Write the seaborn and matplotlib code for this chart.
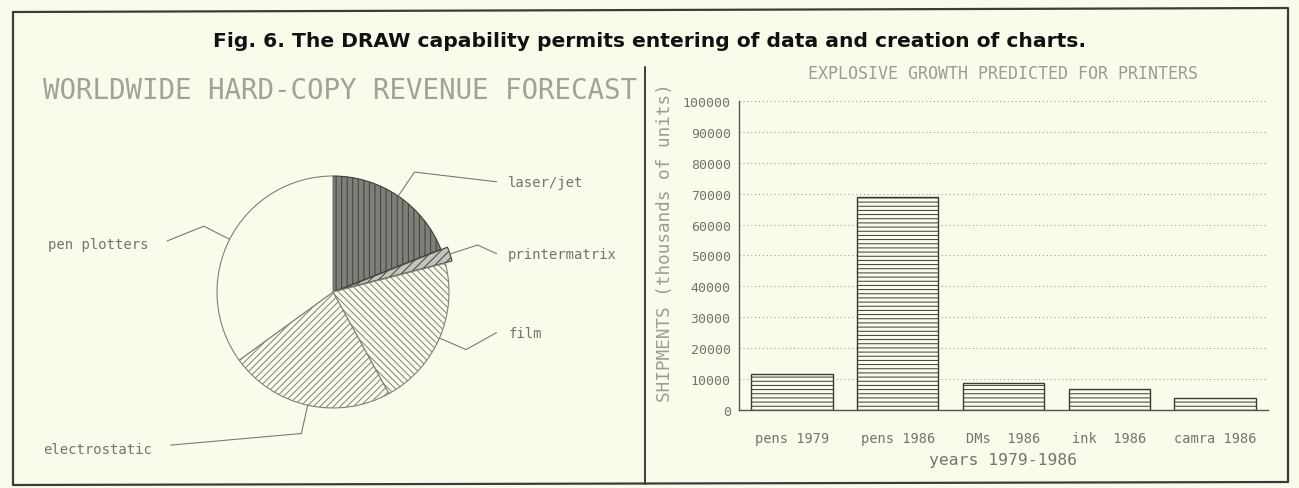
import matplotlib
matplotlib.use("Agg")
import matplotlib.pyplot as plt
import numpy as np
import seaborn as sns

# ---- data -------------------------------------------------------------
pie_labels = ["laser/jet", "printermatrix", "film", "electrostatic", "pen plotters"]
pie_shares = [19, 2, 21, 23, 35]          # percent of revenue

bar_categories = ["pens 1979", "pens 1986", "DMs  1986", "ink  1986", "camra 1986"]
bar_values = [11500, 69000, 8800, 6800, 4000]   # thousands of units
y_ticks = [0, 10000, 20000, 30000, 40000, 50000, 60000, 70000, 80000, 90000, 100000]

# ---- style ------------------------------------------------------------
W, H, DPI = 1299, 489, 100
PAPER = "#fbfbec"
INK = "#74746e"
PALE = "#9c9c96"

sns.set_theme(style="white")
plt.rcParams["font.family"] = ["DejaVu Sans Mono"]
plt.rcParams["hatch.linewidth"] = 0.7

fig = plt.figure(figsize=(W / DPI, H / DPI), dpi=DPI, facecolor=PAPER)


def px_axes(x0, y0, x1, y1):
    """Axes placed by pixel box (top-left origin)."""
    return fig.add_axes([x0 / W, 1 - y1 / H, (x1 - x0) / W, (y1 - y0) / H])


# page frame, divider and caption
frame = fig.add_axes([0, 0, 1, 1], facecolor="none")
frame.set_xlim(0, W)
frame.set_ylim(H, 0)
frame.axis("off")
frame.plot([13, 1288, 1288, 13, 13], [13, 9, 483, 486, 13], color="#3c3c38", lw=1.6)
frame.plot([645, 645], [68, 485], color="#3c3c38", lw=1.4)
fig.text(0.5, 1 - 42 / H,
         "Fig. 6. The DRAW capability permits entering of data and creation of charts.",
         ha="center", va="center", fontsize=14.6, fontweight="bold",
         family=["DejaVu Sans"], color="#111111")

# ---- pie chart --------------------------------------------------------
R = 116.0                      # pixels per data unit (pie radius)
CX, CY = 333.0, 293.0          # pie centre in pixels
ax_pie = px_axes(20, 90, 640, 478)
ax_pie.set_facecolor("none")

wedge_face = ["#7f7f78", "#c4c4bb", PAPER, PAPER, PAPER]
wedge_edge = ["#3f3f3a", "#45453f", "#808079", "#808079", "#808079"]
wedge_hatch = ["|||", "////", "\\\\\\\\\\", "/////", None]
explode = [0, 0.06, 0, 0, 0]

wedges, _ = ax_pie.pie(pie_shares, startangle=90, counterclock=False,
                       explode=explode, radius=1.0,
                       wedgeprops=dict(linewidth=0.8))
for w, fc, ec, ht in zip(wedges, wedge_face, wedge_edge, wedge_hatch):
    w.set_facecolor(fc)
    w.set_edgecolor(ec)
    if ht:
        w.set_hatch(ht)

ax_pie.set_xlim((20 - CX) / R, (640 - CX) / R)
ax_pie.set_ylim((CY - 478) / R, (CY - 90) / R)
ax_pie.set_aspect("equal", adjustable="box")
ax_pie.axis("off")

# label anchors (data units) and alignment
label_pos = {
    "laser/jet": (1.51, 0.95, "left"),
    "printermatrix": (1.51, 0.33, "left"),
    "film": (1.51, -0.35, "left"),
    "electrostatic": (-1.56, -1.35, "right"),
    "pen plotters": (-1.59, 0.41, "right"),
}
for w, name in zip(wedges, pie_labels):
    tx, ty, ha = label_pos[name]
    mid = np.deg2rad((w.theta1 + w.theta2) / 2)
    cx, cy = w.center
    edge = (cx + w.r * np.cos(mid), cy + w.r * np.sin(mid))
    elbow = (cx + 1.25 * np.cos(mid), cy + 1.25 * np.sin(mid))
    if ha == "left":
        end = (tx - 0.1, ty)
    else:
        end = (tx + 0.16, ty + 0.03)
    ax_pie.plot([edge[0], elbow[0], end[0]], [edge[1], elbow[1], end[1]],
                color="#7a7a74", lw=0.8, clip_on=False)
    ax_pie.text(tx, ty, name, ha=ha, va="center", fontsize=10, color=INK)

fig.text(43 / W, 1 - 91 / H, "WORLDWIDE HARD-COPY REVENUE FORECAST",
         ha="left", va="center", fontsize=19.8, color="#a2a29c")

# ---- bar chart --------------------------------------------------------
ax_bar = px_axes(739, 102, 1268, 411)
ax_bar.set_facecolor("none")
sns.barplot(x=bar_categories, y=bar_values, ax=ax_bar, order=bar_categories,
            color=PAPER, saturation=1, width=0.77, edgecolor="#3a3a36",
            linewidth=1.0, hatch="----", errorbar=None)

ax_bar.set_xlim(-0.5, 4.5)
ax_bar.set_ylim(0, 100000)
ax_bar.set_yticks(y_ticks)
ax_bar.set_yticklabels([str(v) for v in y_ticks])
ax_bar.tick_params(axis="y", length=0, pad=6, labelsize=9.5, labelcolor=INK)
ax_bar.tick_params(axis="x", length=0, pad=15, labelsize=9.8, labelcolor=INK)

ax_bar.yaxis.grid(True, linestyle=(0, (1, 2.5)), color="#a0a09a", lw=0.8)
ax_bar.set_axisbelow(True)
for side in ("top", "right"):
    ax_bar.spines[side].set_visible(False)
for side in ("left", "bottom"):
    ax_bar.spines[side].set_color("#55554f")
    ax_bar.spines[side].set_linewidth(1.0)

ax_bar.set_xlabel("years 1979-1986", fontsize=11.8, color=INK)
ax_bar.xaxis.set_label_coords(0.5, (411 - 460) / 309)
ax_bar.xaxis.label.set_va("center")
ax_bar.set_ylabel("SHIPMENTS (thousands of units)", fontsize=12.7, color=PALE)
ax_bar.yaxis.set_label_coords((665 - 739) / 529, (411 - 243) / 309)
ax_bar.yaxis.label.set_va("center")

ax_bar.text(0.5, 1 + (102 - 74) / 309, "EXPLOSIVE GROWTH PREDICTED FOR PRINTERS",
            transform=ax_bar.transAxes, ha="center", va="center",
            fontsize=12, color=PALE)

fig.savefig("out.png", dpi=DPI, facecolor=PAPER)
